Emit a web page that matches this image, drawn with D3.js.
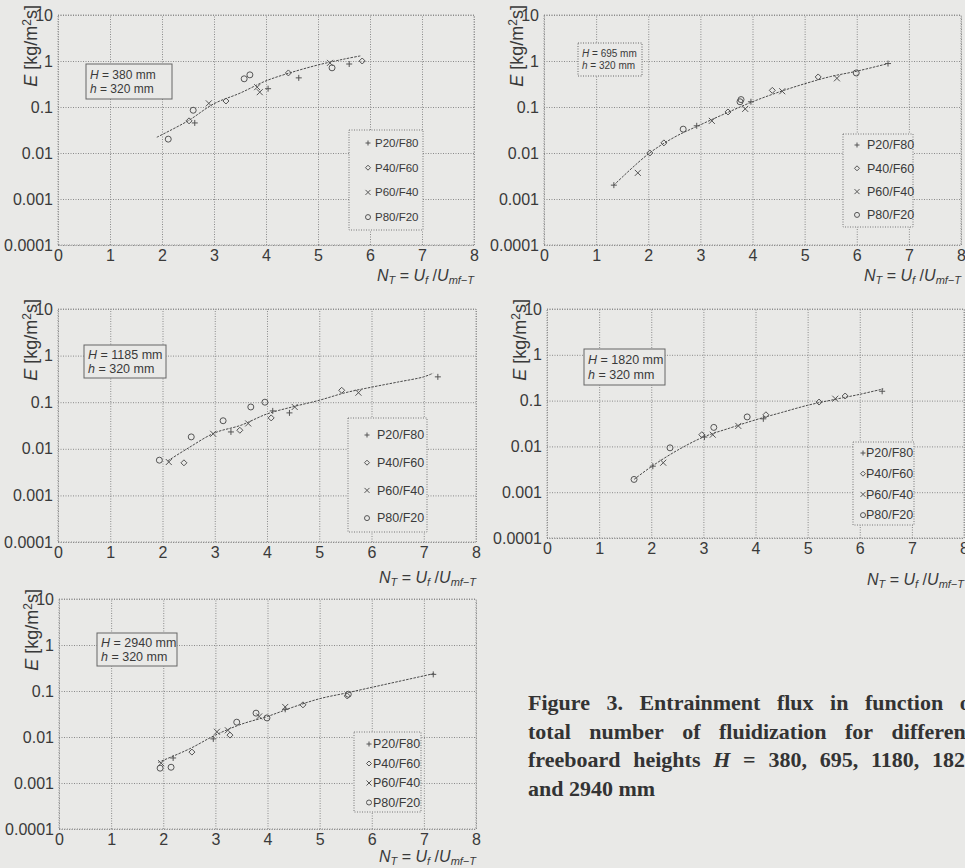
<!DOCTYPE html>
<html>
<head>
<meta charset="utf-8">
<script src="https://cdn.jsdelivr.net/npm/d3@7"></script>
<style>
  body { margin: 0; background: #e9e9e7; }
  svg { display: block; font-family: Arial, "Liberation Sans", Helvetica, sans-serif; }
</style>
</head>
<body>
<div id="fig"></div>
<script>
// axis ticks
const xTicks = [0, 1, 2, 3, 4, 5, 6, 7, 8];
const yTicks = [0.0001, 0.001, 0.01, 0.1, 1, 10];
const yTickLabels = ["0.0001", "0.001", "0.01", "0.1", "1", "10"];
const seriesNames = ["P20/F80", "P40/F60", "P60/F40", "P80/F20"];

// H = 380 mm
const h380Fit = [[1.9, 0.022], [2.5, 0.05], [3, 0.118], [3.5, 0.2], [4, 0.37], [4.5, 0.57], [5, 0.82], [5.5, 1.1], [5.83, 1.3]];
const h380P20 = [[2.63, 0.045], [4.04, 0.25], [4.63, 0.43], [5.6, 0.86]];
const h380P40 = [[2.52, 0.05], [3.23, 0.135], [4.43, 0.55], [5.85, 1.0]];
const h380P60 = [[2.9, 0.12], [3.83, 0.27], [3.88, 0.21], [5.23, 0.91]];
const h380P80 = [[2.12, 0.02], [2.6, 0.085], [3.58, 0.41], [3.69, 0.5], [5.27, 0.71]];

// H = 695 mm
const h695Fit = [[1.34, 0.002], [2, 0.0095], [2.5, 0.022], [3, 0.041], [3.5, 0.074], [4, 0.13], [4.5, 0.21], [5, 0.32], [5.5, 0.46], [6, 0.6], [6.6, 0.88]];
const h695P20 = [[1.34, 0.002], [2.93, 0.039], [3.97, 0.13], [6.6, 0.88]];
const h695P40 = [[2.03, 0.01], [2.3, 0.0166], [3.53, 0.078], [4.38, 0.23], [5.26, 0.45]];
const h695P60 = [[1.8, 0.0037], [3.22, 0.05], [3.86, 0.091], [4.57, 0.22], [5.62, 0.42]];
const h695P80 = [[2.67, 0.033], [3.76, 0.13], [3.78, 0.145], [5.99, 0.55]];

// H = 1185 mm
const h1185Fit = [[2.1, 0.0055], [2.5, 0.0105], [3, 0.022], [3.5, 0.032], [4, 0.056], [4.5, 0.08], [5, 0.11], [5.5, 0.16], [6, 0.21], [6.5, 0.27], [7, 0.35], [7.18, 0.42]];
const h1185P20 = [[3.31, 0.023], [4.11, 0.065], [4.43, 0.059], [7.27, 0.35]];
const h1185P40 = [[2.41, 0.005], [3.48, 0.025], [4.08, 0.046], [5.43, 0.18]];
const h1185P60 = [[2.12, 0.0052], [2.97, 0.021], [3.64, 0.035], [4.53, 0.079], [5.75, 0.16]];
const h1185P80 = [[1.94, 0.0057], [2.55, 0.018], [3.16, 0.04], [3.69, 0.079], [3.96, 0.1]];

// H = 1820 mm
const h1820Fit = [[1.67, 0.0019], [2, 0.0036], [2.5, 0.0082], [3, 0.016], [3.5, 0.025], [4, 0.038], [4.5, 0.055], [5, 0.079], [5.5, 0.105], [6, 0.137], [6.45, 0.18]];
const h1820P20 = [[2.03, 0.0037], [3.02, 0.016], [4.15, 0.04], [6.43, 0.16]];
const h1820P40 = [[2.97, 0.018], [4.2, 0.049], [5.22, 0.093], [5.72, 0.126]];
const h1820P60 = [[2.23, 0.0044], [3.18, 0.018], [3.67, 0.028], [5.53, 0.11]];
const h1820P80 = [[1.67, 0.0019], [2.36, 0.0093], [3.2, 0.026], [3.84, 0.044]];

// H = 2940 mm
const h2940Fit = [[1.9, 0.0028], [2.5, 0.0055], [3, 0.011], [3.5, 0.019], [4, 0.028], [4.5, 0.045], [5, 0.068], [5.5, 0.09], [6, 0.12], [6.5, 0.16], [7.2, 0.24]];
const h2940P20 = [[2.19, 0.0035], [2.96, 0.0091], [4.34, 0.04], [7.18, 0.23]];
const h2940P40 = [[2.55, 0.0047], [3.28, 0.011], [4.68, 0.05], [5.53, 0.078]];
const h2940P60 = [[1.96, 0.0027], [3.03, 0.013], [3.24, 0.014], [3.84, 0.028], [4.34, 0.045]];
const h2940P80 = [[1.94, 0.0021], [2.15, 0.0022], [3.41, 0.021], [3.78, 0.033], [3.99, 0.026], [5.55, 0.085]];

// caption, "*" marks an italic word
const captionLines = [
    "Figure 3. Entrainment flux in function of",
    "total number of fluidization for different",
    "freeboard heights *H = 380, 695, 1180, 1820",
    "and 2940 mm"
];

// layout of the five panels
const panels = [
    { H: "380", fit: h380Fit, pts: [h380P20, h380P40, h380P60, h380P80],
      left: 58, top: 15, w: 416, h: 230, titleDy: 36,
      ann: { x: 86, y: 64, w: 86, h: 35, fs: 12, dash: null },
      leg: { x: 349, y: 130, w: 74, h: 100, row0: 13, gap: 24.7, fs: 11.5, mx: 19, tx: 26 } },
    { H: "695", fit: h695Fit, pts: [h695P20, h695P40, h695P60, h695P80],
      left: 544, top: 15, w: 417, h: 230, titleDy: 36,
      ann: { x: 578, y: 43, w: 64, h: 33, fs: 10, dash: "1,1.5" },
      leg: { x: 843, y: 134, w: 70, h: 93, row0: 11, gap: 23.3, fs: 12.5, mx: 14, tx: 24 } },
    { H: "1185", fit: h1185Fit, pts: [h1185P20, h1185P40, h1185P60, h1185P80],
      left: 58, top: 309, w: 418, h: 233, titleDy: 41,
      ann: { x: 84, y: 345, w: 82, h: 33, fs: 12.5, dash: null },
      leg: { x: 348, y: 418, w: 79, h: 114, row0: 17, gap: 27.7, fs: 12.5, mx: 19, tx: 29 } },
    { H: "1820", fit: h1820Fit, pts: [h1820P20, h1820P40, h1820P60, h1820P80],
      left: 547, top: 309, w: 417, h: 229, titleDy: 47,
      ann: { x: 584, y: 349, w: 81, h: 36, fs: 12.5, dash: null },
      leg: { x: 853, y: 442, w: 61, h: 83, row0: 11, gap: 20.7, fs: 12.5, mx: 10, tx: 13 } },
    { H: "2940", fit: h2940Fit, pts: [h2940P20, h2940P40, h2940P60, h2940P80],
      left: 59, top: 599, w: 417, h: 230, titleDy: 33,
      ann: { x: 97, y: 633, w: 80, h: 33, fs: 12.5, dash: null },
      leg: { x: 354, y: 732, w: 67, h: 80, row0: 12, gap: 19.5, fs: 12.5, mx: 15, tx: 19 } }
];

const bg = "#e9e9e7";
const ink = "#3a3a3a";
const markInk = "#555";

const svg = d3.select("#fig").append("svg")
    .attr("width", 965)
    .attr("height", 868);

svg.append("rect").attr("width", 965).attr("height", 868).attr("fill", bg);

// marker shapes: 0 plus, 1 diamond, 2 cross, 3 circle
function drawMarker(sel, type, s) {
    if (type === 3) {
        sel.append("circle").attr("r", s).attr("fill", "none")
            .attr("stroke", markInk).attr("stroke-width", 1);
        return;
    }
    let d;
    if (type === 0) d = `M${-s},0H${s}M0,${-s}V${s}`;
    else if (type === 1) d = `M0,${-s}L${s},0L0,${s}L${-s},0Z`;
    else d = `M${-s},${-s}L${s},${s}M${-s},${s}L${s},${-s}`;
    sel.append("path").attr("d", d).attr("fill", "none")
        .attr("stroke", markInk).attr("stroke-width", 1);
}

panels.forEach(p => {
    const g = svg.append("g").attr("transform", `translate(${p.left},${p.top})`);

    const x = d3.scaleLinear().domain([0, 8]).range([0, p.w]);
    const y = d3.scaleLog().domain([0.0001, 10]).range([p.h, 0]);

    // grid + axes
    const xAxis = g.append("g")
        .attr("transform", `translate(0,${p.h})`)
        .call(d3.axisBottom(x).tickValues(xTicks).tickSize(-p.h).tickPadding(5));
    const yAxis = g.append("g")
        .call(d3.axisLeft(y).tickValues(yTicks).tickSize(-p.w).tickPadding(5)
            .tickFormat((d, i) => yTickLabels[i]));

    [xAxis, yAxis].forEach(a => {
        a.select(".domain").remove();
        a.selectAll("line").attr("stroke", "#8a8a8a").attr("stroke-width", 1)
            .attr("stroke-dasharray", "1,1.5");
        a.selectAll("text").attr("fill", ink).style("font-size", "16px");
    });

    // frame
    g.append("rect").attr("width", p.w).attr("height", p.h)
        .attr("fill", "none").attr("stroke", "#8a8a8a").attr("stroke-dasharray", "1,1.5");

    // y label
    const yl = g.append("text")
        .attr("transform", `translate(-21,-10) rotate(-90)`)
        .attr("text-anchor", "end")
        .attr("fill", ink)
        .style("font-size", "18px");
    yl.append("tspan").style("font-style", "italic").text("E");
    yl.append("tspan").text(" [kg/m");
    yl.append("tspan").attr("dy", -6).style("font-size", "12px").text("2");
    yl.append("tspan").attr("dy", 6).text("s]");

    // x title
    const xt = g.append("text")
        .attr("x", p.w).attr("y", p.h + p.titleDy)
        .attr("text-anchor", "end")
        .attr("fill", ink)
        .style("font-size", "16px")
        .style("font-style", "italic");
    xt.append("tspan").text("N");
    xt.append("tspan").attr("dy", 3).style("font-size", "11px").text("T");
    xt.append("tspan").attr("dy", -3).style("font-style", "normal").text(" = ");
    xt.append("tspan").text("U");
    xt.append("tspan").attr("dy", 3).style("font-size", "11px").text("f");
    xt.append("tspan").attr("dy", -3).style("font-style", "normal").text(" /");
    xt.append("tspan").text("U");
    xt.append("tspan").attr("dy", 3).style("font-size", "11px").text("mf\u2212T");

    // fitted curve
    const line = d3.line()
        .x(d => x(d[0]))
        .y(d => y(d[1]))
        .curve(d3.curveCatmullRom);
    g.append("path")
        .datum(p.fit)
        .attr("d", line)
        .attr("fill", "none")
        .attr("stroke", "#4a4a4a")
        .attr("stroke-width", 1)
        .attr("stroke-dasharray", "2.5,1.2");

    // measured points
    p.pts.forEach((series, k) => {
        series.forEach(d => {
            const m = g.append("g").attr("transform", `translate(${x(d[0])},${y(d[1])})`);
            drawMarker(m, k, 3);
        });
    });

    // H / h annotation
    const a = p.ann;
    const ag = svg.append("g").attr("transform", `translate(${a.x},${a.y})`);
    ag.append("rect").attr("width", a.w).attr("height", a.h)
        .attr("fill", bg).attr("stroke", "#666").attr("stroke-width", 1)
        .attr("stroke-dasharray", a.dash);
    [["H", p.H], ["h", "320"]].forEach((r, i) => {
        const cy = a.h / 2 + (i === 0 ? -1 : 1) * a.fs * 0.58;
        const t = ag.append("text")
            .attr("x", 4).attr("y", cy).attr("dy", "0.35em")
            .attr("fill", ink).style("font-size", a.fs + "px");
        t.append("tspan").style("font-style", "italic").text(r[0]);
        t.append("tspan").text(` = ${r[1]} mm`);
    });

    // legend
    const L = p.leg;
    const lg = svg.append("g").attr("transform", `translate(${L.x},${L.y})`);
    lg.append("rect").attr("width", L.w).attr("height", L.h)
        .attr("fill", bg).attr("stroke", "#777").attr("stroke-dasharray", "1,1.5");
    seriesNames.forEach((name, k) => {
        const cy = L.row0 + k * L.gap;
        drawMarker(lg.append("g").attr("transform", `translate(${L.mx},${cy})`), k, 2.5);
        lg.append("text")
            .attr("x", L.tx).attr("y", cy)
            .attr("dy", "0.35em")
            .attr("fill", ink)
            .style("font-size", L.fs + "px")
            .text(name);
    });
});

// caption, justified word by word
const cap = svg.append("g")
    .attr("fill", "#333")
    .style("font-family", "'Liberation Serif', 'Times New Roman', serif")
    .style("font-weight", "bold")
    .style("font-size", "22px");
const capX0 = 528;
const capEnd = [978, 973, 976, null];
const capY = [710, 739, 767, 796];
captionLines.forEach((txt, i) => {
    const words = txt.split(" ").map(w => ({ t: w.replace("*", ""), it: w.startsWith("*") }));
    const nodes = words.map(w => cap.append("text")
        .attr("y", capY[i])
        .style("font-style", w.it ? "italic" : "normal")
        .text(w.t));
    const widths = nodes.map(n => n.node().getComputedTextLength());
    const sum = d3.sum(widths);
    const gap = capEnd[i] ? (capEnd[i] - capX0 - sum) / (words.length - 1) : 5.5;
    let xPos = capX0;
    nodes.forEach((n, j) => {
        n.attr("x", xPos);
        xPos += widths[j] + gap;
    });
});
</script>
</body>
</html>
